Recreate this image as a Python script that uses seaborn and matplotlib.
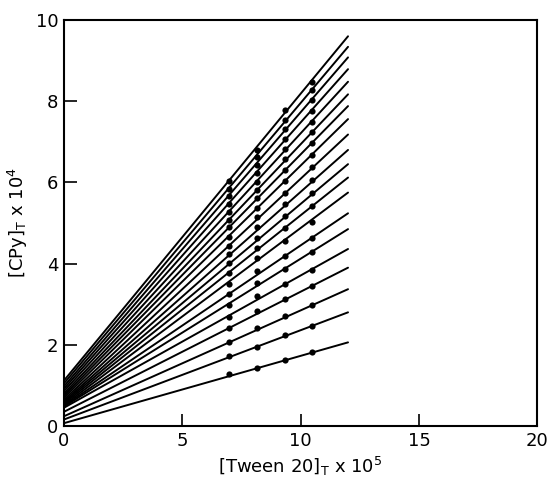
import numpy as np
import pandas as pd
import seaborn as sns
import matplotlib
matplotlib.use("Agg")
import matplotlib.pyplot as plt

# --- data (top line first) ---
x_start = 0.0
x_end = 12.0
line_start = [1.12, 1.05, 0.98, 0.92, 0.86, 0.80, 0.75, 0.70, 0.65, 0.61,
              0.58, 0.55, 0.52, 0.50, 0.48, 0.45, 0.35, 0.24, 0.16, 0.07]
line_end = [9.60, 9.34, 9.08, 8.79, 8.48, 8.17, 7.88, 7.56, 7.18, 6.80,
            6.45, 6.12, 5.75, 5.24, 4.85, 4.36, 3.90, 3.37, 2.80, 2.06]

x_cols = [6.97, 8.15, 9.34, 10.46]
y_col1 = [6.04, 5.85, 5.67, 5.47, 5.28, 5.07, 4.89, 4.65, 4.44, 4.23,
          4.01, 3.78, 3.50, 3.24, 2.98, 2.69, 2.42, 2.08, 1.72, 1.27]
y_col2 = [6.80, 6.62, 6.43, 6.22, 6.02, 5.81, 5.61, 5.36, 5.14, 4.89,
          4.62, 4.38, 4.13, 3.83, 3.53, 3.21, 2.84, 2.41, 1.94, 1.42]
y_col3 = [7.78, 7.54, 7.31, 7.06, 6.82, 6.57, 6.31, 6.04, 5.75, 5.47,
          5.17, 4.87, 4.55, 4.19, 3.86, 3.49, 3.14, 2.72, 2.23, 1.63]
y_col4 = [8.48, 8.28, 8.03, 7.76, 7.50, 7.23, 6.96, 6.67, 6.37, 6.07,
          5.73, 5.42, 5.03, 4.64, 4.28, 3.85, 3.46, 2.99, 2.47, 1.82]

# --- build long tables ---
lines = pd.DataFrame({
    "line": list(range(len(line_start))) * 2,
    "x": [x_start] * len(line_start) + [x_end] * len(line_end),
    "y": line_start + line_end,
})
points = pd.DataFrame({
    "x": np.repeat(x_cols, len(y_col1)),
    "y": y_col1 + y_col2 + y_col3 + y_col4,
})

sns.set_style("ticks")
plt.rcParams["font.family"] = ["DejaVu Sans"]
plt.rcParams["mathtext.default"] = "regular"

fig = plt.figure(figsize=(5.54, 4.83), dpi=100)
ax = fig.add_axes([0.1155, 0.118, 0.8545, 0.8405])

sns.lineplot(data=lines, x="x", y="y", units="line", estimator=None,
             color="black", linewidth=1.4, ax=ax)
sns.scatterplot(data=points, x="x", y="y", color="black", s=20,
                edgecolor="black", linewidth=0, ax=ax, zorder=3)

ax.set_xlim(0, 20)
ax.set_ylim(0, 10)
ax.set_xticks([0, 5, 10, 15, 20])
ax.set_yticks([0, 2, 4, 6, 8, 10])
ax.tick_params(direction="in", length=9, width=1.2, labelsize=13,
               colors="black", pad=4)
for s in ax.spines.values():
    s.set_visible(True)
    s.set_linewidth(1.5)
    s.set_color("black")

ax.set_xlabel(r"[Tween 20]$_T$ x 10$^5$", fontsize=13, color="black", labelpad=4)
ax.set_ylabel(r"[CPy]$_T$ x 10$^4$", fontsize=13, color="black", labelpad=4)

fig.savefig("out.png", dpi=100)
